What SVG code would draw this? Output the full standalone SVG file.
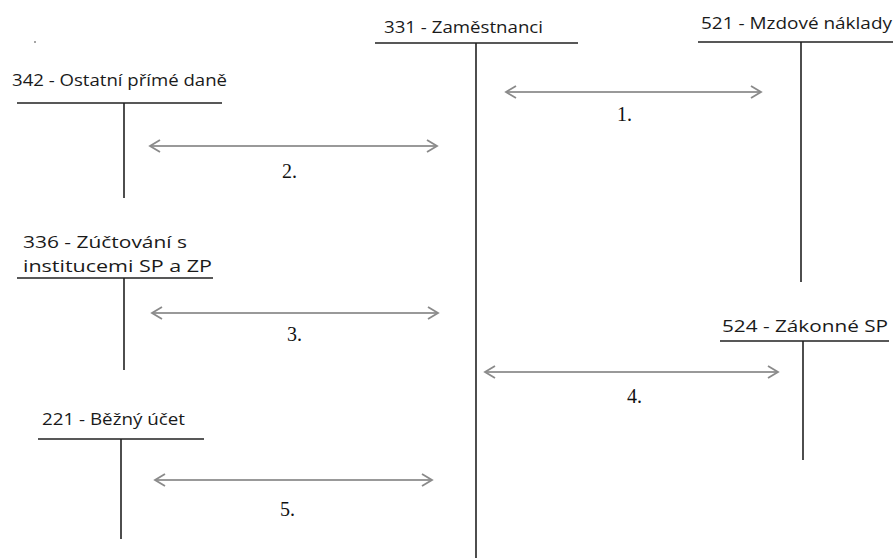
<svg xmlns="http://www.w3.org/2000/svg" width="893" height="558" viewBox="0 0 893 558">
  <style>
    .acct { font-family: "Open Sans", "Liberation Sans", sans-serif; font-size: 17px; fill: #1a1a1a; }
    .tline { stroke: #222; stroke-width: 1.6; fill: none; }
    .flow { stroke: #999; stroke-width: 2; fill: none; }
    .head { stroke: #8a8a8a; stroke-width: 1.8; fill: none; }
    .num { font-family: "Liberation Serif", serif; font-size: 20px; fill: #111; }
  </style>
  <rect width="893" height="558" fill="#fff"/>
  <circle cx="35" cy="42" r="0.8" fill="#333"/>

  <g id="acc-342">
    <text class="acct" x="12" y="86" textLength="215" lengthAdjust="spacingAndGlyphs">342 - Ostatní přímé daně</text>
    <path class="tline" d="M17 103H222M124 103V198"/>
  </g>
  <g id="acc-331">
    <text class="acct" x="384" y="33" textLength="159" lengthAdjust="spacingAndGlyphs">331 - Zaměstnanci</text>
    <path class="tline" d="M375 43H578M476 43V558"/>
  </g>
  <g id="acc-521">
    <text class="acct" x="701" y="29" textLength="191" lengthAdjust="spacingAndGlyphs">521 - Mzdové náklady</text>
    <path class="tline" d="M698 42H893M801 42V282"/>
  </g>
  <g id="acc-336">
    <text class="acct" x="23" y="248" textLength="164" lengthAdjust="spacingAndGlyphs">336 - Zúčtování s</text>
    <text class="acct" x="23" y="272" textLength="189" lengthAdjust="spacingAndGlyphs">institucemi SP a ZP</text>
    <path class="tline" d="M17 278H213M124 278V370"/>
  </g>
  <g id="acc-524">
    <text class="acct" x="722" y="332" textLength="166" lengthAdjust="spacingAndGlyphs">524 - Zákonné SP</text>
    <path class="tline" d="M720 341H889M803 341V460"/>
  </g>
  <g id="acc-221">
    <text class="acct" x="42" y="425" textLength="143" lengthAdjust="spacingAndGlyphs">221 - Běžný účet</text>
    <path class="tline" d="M38 439H204M121 439V539"/>
  </g>

  <g id="connectors">
    <path class="flow" d="M506 92H761"/>
    <path class="head" d="M516 86L506 92L516 98M751 86L761 92L751 98"/>
    <text class="num" x="617" y="121">1.</text>

    <path class="flow" d="M150 146H437"/>
    <path class="head" d="M160 140L150 146L160 152M427 140L437 146L427 152"/>
    <text class="num" x="282" y="178">2.</text>

    <path class="flow" d="M152 313H438"/>
    <path class="head" d="M162 307L152 313L162 319M428 307L438 313L428 319"/>
    <text class="num" x="287" y="341">3.</text>

    <path class="flow" d="M485 372H778"/>
    <path class="head" d="M495 366L485 372L495 378M768 366L778 372L768 378"/>
    <text class="num" x="627" y="403">4.</text>

    <path class="flow" d="M155 480H432"/>
    <path class="head" d="M165 474L155 480L165 486M422 474L432 480L422 486"/>
    <text class="num" x="280" y="516">5.</text>
  </g>
</svg>
